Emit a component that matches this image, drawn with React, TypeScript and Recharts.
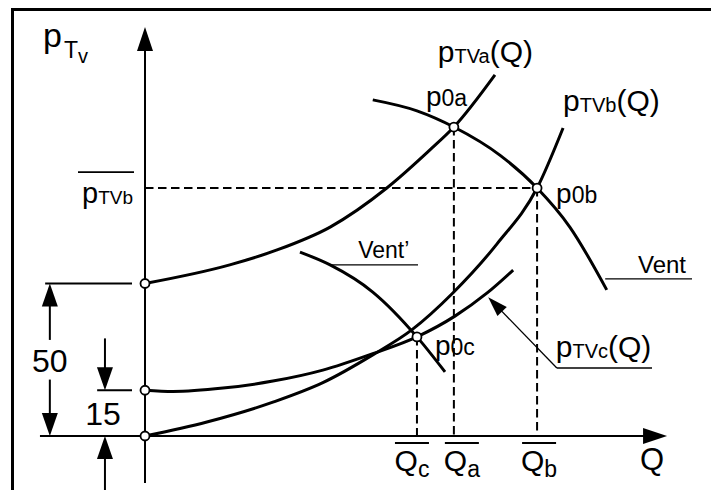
import React from 'react'
import { LineChart, Line, XAxis, YAxis, ReferenceLine, ReferenceDot } from 'recharts'

const FONT = '"Liberation Sans", Arial, Helvetica, sans-serif'
const INK = '#000'

// fan curves p_TV(Q): flow values and total pressure along each one
const pTVaQ = [0, 16.3, 25.4, 35.6, 46.5, 54.8, 59.4, 67.3]
const pTVaP = [50, 56.1, 61.0, 68.5, 81.3, 93.8, 101.3, 118.4]
const pTVbQ = [0, 11.9, 24.6, 34.2, 43.8, 51.3, 59.2, 67.7, 75.4, 80.4]
const pTVbP = [0, 4.6, 11.1, 17.5, 26.6, 34.8, 46.9, 63.0, 81.3, 101.0]
const pTVcQ = [0, 5.4, 15.0, 24.6, 34.2, 43.8, 52.3, 59.6, 65.8, 70.8]
const pTVcP = [15, 14.6, 15.7, 18.0, 21.6, 27.0, 32.5, 39.3, 46.9, 54.4]

// fan characteristics Vent and Vent'
const ventQ = [43.8, 52.3, 59.4, 68.3, 75.4, 81.7, 88.8]
const ventP = [110.2, 106.6, 101.3, 92.0, 81.3, 68.5, 47.9]
const ventPrimeQ = [29.8, 35.6, 43.8, 52.3, 57.7]
const ventPrimeP = [60.3, 56.1, 47.2, 32.5, 21.0]

// operating points p0a, p0b, p0c
const opKeys = ['a', 'b', 'c']
const opQ = [59.4, 75.4, 52.3]
const opP = [101.3, 81.3, 32.5]

// pressure of each curve at Q = 0, and the two dimensioned values
const startP = [50, 15, 0]
const dimValues = [50, 15]

type Pt = { q: number; p: number }
const pairs = (qs: number[], ps: number[]): Pt[] => qs.map((q, i) => ({ q, p: ps[i] }))

const curves = [
  { key: 'pTVa', data: pairs(pTVaQ, pTVaP) },
  { key: 'pTVb', data: pairs(pTVbQ, pTVbP) },
  { key: 'pTVc', data: pairs(pTVcQ, pTVcP) },
  { key: 'vent', data: pairs(ventQ, ventP) },
  { key: 'ventPrime', data: pairs(ventPrimeQ, ventPrimeP) },
]

// line with a filled arrowhead at its second point
const arrow = (len: number, half: number, w: number) => (props: any) => {
  const { x1, y1, x2, y2 } = props
  const d = Math.hypot(x2 - x1, y2 - y1) || 1
  const ux = (x2 - x1) / d
  const uy = (y2 - y1) / d
  const bx = x2 - ux * len
  const by = y2 - uy * len
  const nx = -uy * half
  const ny = ux * half
  return (
    <g>
      <line x1={x1} y1={y1} x2={bx + ux} y2={by + uy} stroke={INK} strokeWidth={w} />
      <polygon points={`${x2},${y2} ${bx + nx},${by + ny} ${bx - nx},${by - ny}`} fill={INK} />
    </g>
  )
}
const axisArrow = arrow(24, 8, 2)
const dimArrow = arrow(23, 8, 2)
const leaderArrow = arrow(20, 6.5, 1.3)

// text placed at a data point through a ReferenceDot shape
const at = (draw: (x: number, y: number) => React.ReactElement) => (props: any) => draw(props.cx, props.cy)

const curveLabel = (sub: string) =>
  at((x, y) => (
    <text x={x} y={y} fontFamily={FONT} fontSize={30} fill={INK}>
      p<tspan fontSize={20} dy={1}>{sub}</tspan>
      <tspan fontSize={30} dy={-1}>(Q)</tspan>
    </text>
  ))

const pointLabelOffset = [
  { dx: -28, dy: -21 },
  { dx: 19, dy: 15 },
  { dx: 18, dy: 18 },
]
const qLabelShift = [8, 2, -5]

const DIM50_Q = -18.3
const DIM15_Q = -7.7

export default function App() {
  return (
    <div style={{ position: 'absolute', left: 0, top: 0, width: 711, height: 490, background: '#fff' }}>
      <div
        style={{
          position: 'absolute',
          left: 11,
          top: 8,
          right: 0,
          bottom: 0,
          borderTop: '3px solid #000',
          borderLeft: '3px solid #000',
        }}
      />
      <div style={{ position: 'absolute', left: 0, top: 0 }}>
        <LineChart width={711} height={490} margin={{ top: 9, right: 20, bottom: 5.2, left: 15 }}>
          <XAxis type="number" dataKey="q" domain={[-25, 105]} allowDataOverflow hide />
          <YAxis type="number" dataKey="p" domain={[-16, 140]} allowDataOverflow hide />

          {/* coordinate axes */}
          <ReferenceLine ifOverflow="visible" segment={[{ x: 0, y: -15.4 }, { x: 0, y: 134.1 }]} shape={axisArrow} />
          <ReferenceLine ifOverflow="visible" segment={[{ x: -20.2, y: 0 }, { x: 100.4, y: 0 }]} shape={axisArrow} />

          {/* extension lines of the dimensions */}
          {dimValues.map((v, i) => (
            <ReferenceLine
              key={`ext${v}`}
              ifOverflow="visible"
              segment={[{ x: i === 0 ? -19.2 : -9.2, y: v }, { x: -2.5, y: v }]}
              stroke={INK}
              strokeWidth={2}
            />
          ))}

          {/* dimension 50 */}
          <ReferenceLine ifOverflow="visible" segment={[{ x: DIM50_Q, y: dimValues[0] * 0.63 }, { x: DIM50_Q, y: dimValues[0] }]} shape={dimArrow} />
          <ReferenceLine ifOverflow="visible" segment={[{ x: DIM50_Q, y: dimValues[0] * 0.37 }, { x: DIM50_Q, y: 0 }]} shape={dimArrow} />
          <ReferenceDot
            x={DIM50_Q}
            y={dimValues[0] / 2}
            ifOverflow="visible"
            shape={at((x, y) => (
              <text x={x} y={y + 12} textAnchor="middle" fontFamily={FONT} fontSize={32} fill={INK}>
                {dimValues[0]}
              </text>
            ))}
          />

          {/* dimension 15 */}
          <ReferenceLine ifOverflow="visible" segment={[{ x: DIM15_Q, y: 32 }, { x: DIM15_Q, y: dimValues[1] }]} shape={dimArrow} />
          <ReferenceLine ifOverflow="visible" segment={[{ x: DIM15_Q, y: -18 }, { x: DIM15_Q, y: 0 }]} shape={dimArrow} />
          <ReferenceDot
            x={DIM15_Q}
            y={dimValues[1] / 2}
            ifOverflow="visible"
            shape={at((x, y) => (
              <text x={x - 2} y={y + 12} textAnchor="middle" fontFamily={FONT} fontSize={32} fill={INK}>
                {dimValues[1]}
              </text>
            ))}
          />

          {/* projections of the operating points */}
          <ReferenceLine
            ifOverflow="visible"
            segment={[{ x: 0, y: opP[1] }, { x: opQ[1], y: opP[1] }]}
            stroke={INK}
            strokeWidth={2}
            strokeDasharray="8.5 4.5"
          />
          {opKeys.map((k, i) => (
            <ReferenceLine
              key={`v${k}`}
              ifOverflow="visible"
              segment={[{ x: opQ[i], y: opP[i] }, { x: opQ[i], y: 0 }]}
              stroke={INK}
              strokeWidth={2}
              strokeDasharray="8.5 4.5"
            />
          ))}

          {curves.map((c) => (
            <Line
              key={c.key}
              data={c.data}
              dataKey="p"
              type="monotone"
              stroke={INK}
              strokeWidth={3}
              dot={false}
              activeDot={false}
              isAnimationActive={false}
            />
          ))}

          {/* underlines of Vent, Vent' and pTVc(Q), with the pointer to pTVc */}
          <ReferenceLine ifOverflow="visible" segment={[{ x: 88.5, y: 51.5 }, { x: 105.2, y: 51.5 }]} stroke={INK} strokeWidth={1.3} />
          <ReferenceLine ifOverflow="visible" segment={[{ x: 35.6, y: 56.1 }, { x: 52.5, y: 56.1 }]} stroke={INK} strokeWidth={1.3} />
          <ReferenceLine ifOverflow="visible" segment={[{ x: 79.2, y: 22.3 }, { x: 97.5, y: 22.3 }]} stroke={INK} strokeWidth={1.3} />
          <ReferenceLine ifOverflow="visible" segment={[{ x: 79.2, y: 22.3 }, { x: 66.0, y: 45.5 }]} shape={leaderArrow} />

          {/* axis titles */}
          <ReferenceDot
            x={-19.6}
            y={127.5}
            ifOverflow="visible"
            shape={at((x, y) => (
              <text x={x} y={y} fontFamily={FONT} fontSize={34} fill={INK}>
                p<tspan fontSize={23} dx={2} dy={11}>T</tspan>
                <tspan fontSize={20} dy={5}>v</tspan>
              </text>
            ))}
          />
          <ReferenceDot
            x={95.2}
            y={-11.1}
            ifOverflow="visible"
            shape={at((x, y) => (
              <text x={x} y={y} fontFamily={FONT} fontSize={31} fill={INK}>
                Q
              </text>
            ))}
          />

          {/* overlined pTVb level on the pressure axis */}
          <ReferenceDot
            x={0}
            y={opP[1]}
            ifOverflow="visible"
            shape={at((x, y) => (
              <g>
                <line x1={x - 67} y1={y - 16} x2={x - 11} y2={y - 16} stroke={INK} strokeWidth={1.8} />
                <text x={x - 12} y={y + 15} textAnchor="end" fontFamily={FONT} fontSize={29} fill={INK}>
                  p<tspan fontSize={19} dy={1}>TVb</tspan>
                </text>
              </g>
            ))}
          />

          {/* overlined flow rates on the Q axis */}
          {opKeys.map((k, i) => (
            <ReferenceDot
              key={`q${k}`}
              x={opQ[i]}
              y={0}
              ifOverflow="visible"
              shape={at((x, y) => (
                <g>
                  <line x1={x + qLabelShift[i] - 17} y1={y + 7} x2={x + qLabelShift[i] + 17} y2={y + 7} stroke={INK} strokeWidth={2} />
                  <text x={x + qLabelShift[i]} y={y + 35} textAnchor="middle" fontFamily={FONT} fontSize={30} fill={INK}>
                    Q<tspan fontSize={23} dy={6}>{k}</tspan>
                  </text>
                </g>
              ))}
            />
          ))}

          {/* curve names */}
          <ReferenceDot x={56.3} y={122.6} ifOverflow="visible" shape={curveLabel('TVa')} />
          <ReferenceDot x={80.4} y={106.6} ifOverflow="visible" shape={curveLabel('TVb')} />
          <ReferenceDot x={79.0} y={25.9} ifOverflow="visible" shape={curveLabel('TVc')} />
          <ReferenceDot
            x={94.8}
            y={53.4}
            ifOverflow="visible"
            shape={at((x, y) => (
              <text x={x} y={y} fontFamily={FONT} fontSize={24} fill={INK}>
                Vent
              </text>
            ))}
          />
          <ReferenceDot
            x={41.0}
            y={58.4}
            ifOverflow="visible"
            shape={at((x, y) => (
              <text x={x} y={y} fontFamily={FONT} fontSize={23} fill={INK}>
                Vent’
              </text>
            ))}
          />

          {/* operating points and their names */}
          {opKeys.map((k, i) => (
            <ReferenceDot
              key={`op${k}`}
              x={opQ[i]}
              y={opP[i]}
              ifOverflow="visible"
              shape={at((x, y) => (
                <g>
                  <circle cx={x} cy={y} r={4.5} fill="#fff" stroke={INK} strokeWidth={1.8} />
                  <text x={x + pointLabelOffset[i].dx} y={y + pointLabelOffset[i].dy} fontFamily={FONT} fontSize={28} fill={INK}>
                    p<tspan fontSize={23}>0{k}</tspan>
                  </text>
                </g>
              ))}
            />
          ))}

          {/* curve starts on the pressure axis */}
          {startP.map((v) => (
            <ReferenceDot
              key={`s${v}`}
              x={0}
              y={v}
              ifOverflow="visible"
              shape={at((x, y) => <circle cx={x} cy={y} r={4.5} fill="#fff" stroke={INK} strokeWidth={1.8} />)}
            />
          ))}
        </LineChart>
      </div>
    </div>
  )
}
